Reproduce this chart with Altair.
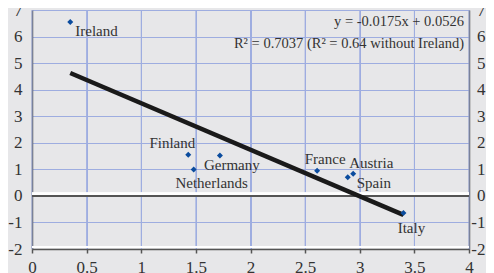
import altair as alt
import pandas as pd

countries = ["Ireland", "Finland", "Netherlands", "Germany", "France", "Austria", "Spain", "Italy"]
x_vals = [0.35, 1.43, 1.48, 1.72, 2.61, 2.94, 2.89, 3.40]
y_vals = [6.55, 1.55, 0.99, 1.52, 0.95, 0.83, 0.70, -0.64]
x_ticks = [0, 0.5, 1, 1.5, 2, 2.5, 3, 3.5, 4]
y_ticks = [-2, -1, 0, 1, 2, 3, 4, 5, 6, 7]

eq_text = "y = -0.0175x + 0.0526"
r2_text = "R\u00b2 = 0.7037 (R\u00b2 = 0.64 without Ireland)"

df = pd.DataFrame({"country": countries, "x": x_vals, "y": y_vals})
xgrid_df = pd.DataFrame({"x": x_ticks})

FONT = "Liberation Serif"
GRID = "#9eade0"
DARK = "#555555"
TXT = "#333333"

xs = alt.Scale(domain=[0, 4], nice=False, zero=False)
ys = alt.Scale(domain=[-2, 7], nice=False, zero=False)

X = alt.X("x:Q", scale=xs, title=None, axis=alt.Axis(values=x_ticks, grid=True))
YN = alt.Y("y:Q", scale=ys, title=None, axis=None)

base = alt.Chart(df)

xgrid = alt.Chart(xgrid_df).mark_rule(color=GRID, strokeWidth=1).encode(x=X)

axes_left = base.mark_point(opacity=0).encode(
    x=X,
    y=alt.Y("y:Q", scale=ys, title=None,
            axis=alt.Axis(orient="left", values=y_ticks, grid=True)),
)

axes_right = base.mark_point(opacity=0).encode(
    x=X,
    y=alt.Y("y:Q", scale=ys, title=None,
            axis=alt.Axis(orient="right", values=y_ticks, grid=False)),
)

points = base.mark_point(shape="diamond", filled=True, size=36, color="#0b4c9e", opacity=1).encode(
    x=X, y=YN
)

trend = base.transform_regression("x", "y").mark_line(color="#1a1a1a", strokeWidth=4.5).encode(
    x=X, y=YN
)

zero_white = base.mark_rule(color="white", strokeWidth=2.5, yOffset=-2).encode(
    y=alt.datum(0, scale=ys, axis=None)
)
zero_dark = base.mark_rule(color=DARK, strokeWidth=1.5).encode(y=alt.datum(0, scale=ys, axis=None))
bottom_white = base.mark_rule(color="white", strokeWidth=2, yOffset=-2).encode(
    y=alt.datum(-2, scale=ys, axis=None)
)

placement = {
    "Ireland": ("left", 5, 9),
    "Finland": ("right", 7, -12),
    "Netherlands": ("center", 18, 13),
    "Germany": ("left", -16, 9),
    "France": ("center", 8, -12),
    "Austria": ("left", -4, -11),
    "Spain": ("left", 9, 6),
    "Italy": ("center", 8, 15),
}

labels = []
for c, (al, dx, dy) in placement.items():
    labels.append(
        base.transform_filter(alt.datum.country == c)
        .mark_text(align=al, baseline="middle", dx=dx, dy=dy, font=FONT, fontSize=15, color=TXT)
        .encode(x=X, y=YN, text="country:N")
    )

eq = alt.Chart(pd.DataFrame({"t": [eq_text]})).mark_text(
    align="right", baseline="middle", font=FONT, fontSize=14.5, color=TXT
).encode(x=alt.value(432), y=alt.value(12), text="t:N")
r2 = alt.Chart(pd.DataFrame({"t": [r2_text]})).mark_text(
    align="right", baseline="middle", font=FONT, fontSize=14.5, color=TXT
).encode(x=alt.value(432), y=alt.value(34), text="t:N")

chart = alt.layer(
    xgrid, axes_left, axes_right, zero_white, bottom_white, zero_dark, trend, points,
    *labels, eq, r2
).properties(
    width=437, height=239,
    autosize=alt.AutoSizeParams(type="none"),
    padding={"left": 24, "top": 2, "right": 17, "bottom": 26},
    background="#e7e7e9",
).configure_view(stroke=None, fill="#e7e7e9").configure_axis(
    gridColor=GRID, gridWidth=1, gridOpacity=1, domainColor=DARK, domainWidth=1.5,
    labelFont=FONT, labelFontSize=17, labelColor=TXT, labelFlush=False,
    labelExpr="'' + datum.value", titleFont=FONT,
).configure_axisX(
    grid=True, tickColor=DARK, tickSize=4, tickWidth=1.5, labelPadding=6,
).configure_axisLeft(
    ticks=False, labelPadding=10,
).configure_axisRight(
    ticks=False, grid=False, labelPadding=16, labelAlign="right",
)

chart.save("out.html", embed_options={"renderer": "svg", "actions": False})
